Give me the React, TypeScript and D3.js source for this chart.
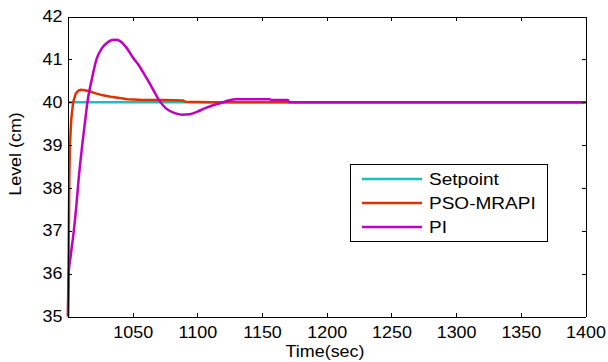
import { useEffect, useRef } from "react";
import * as d3 from "d3";

// Setpoint
const spTime = [1000, 1400];
const spLevel = [40, 40];

// PSO-MRAPI response
const psoTime = [1000, 1000.5, 1001, 1001.5, 1002.5, 1004, 1006, 1008, 1010, 1013, 1017, 1022, 1027, 1033, 1040, 1046, 1058, 1075, 1089, 1091, 1110, 1400];
const psoLevel = [35, 36.5, 38.2, 39.0, 39.6, 40.0, 40.2, 40.27, 40.29, 40.28, 40.25, 40.2, 40.16, 40.13, 40.1, 40.07, 40.05, 40.05, 40.04, 40.01, 40.0, 40.0];

// PI response
const piTime = [1000, 1000.5, 1002, 1004.5, 1006.5, 1008.2, 1011, 1013, 1015, 1018.5, 1022, 1026, 1030, 1034, 1037, 1040, 1045, 1050, 1055, 1058, 1062, 1066, 1071, 1076, 1082, 1088, 1094, 1100, 1106, 1112, 1118, 1124, 1130, 1156, 1157, 1170, 1171, 1400];
const piLevel = [35, 36, 36.4, 37, 37.6, 38.2, 39.0, 39.5, 40.0, 40.55, 41.0, 41.25, 41.38, 41.45, 41.46, 41.43, 41.28, 41.05, 40.85, 40.7, 40.5, 40.28, 40.02, 39.85, 39.75, 39.71, 39.72, 39.78, 39.86, 39.93, 39.98, 40.04, 40.07, 40.07, 40.05, 40.05, 40.0, 40.0];

const xTicks = [1050, 1100, 1150, 1200, 1250, 1300, 1350, 1400];
const yTicks = [35, 36, 37, 38, 39, 40, 41, 42];

const seriesNames = ["Setpoint", "PSO-MRAPI", "PI"];
const seriesColors = ["#1cbfbf", "#dd3300", "#c000c0"];

const FONT = "Liberation Sans, Arial, sans-serif";
const SX = 1.12;

export default function App() {
  const ref = useRef<SVGSVGElement | null>(null);

  useEffect(() => {
    if (!ref.current) return;
    const svg = d3.select(ref.current);
    svg.selectAll("*").remove();

    const x = d3.scaleLinear().domain([1000, 1400]).range([68, 585.5]);
    const y = d3.scaleLinear().domain([35, 42]).range([316.5, 16.5]);

    const series = [
      spTime.map((t, i) => [t, spLevel[i]] as [number, number]),
      psoTime.map((t, i) => [t, psoLevel[i]] as [number, number]),
      piTime.map((t, i) => [t, piLevel[i]] as [number, number]),
    ];

    const line = d3.line<[number, number]>().x((d) => x(d[0])).y((d) => y(d[1]));
    const smooth = d3.line<[number, number]>().x((d) => x(d[0])).y((d) => y(d[1])).curve(d3.curveMonotoneX);

    series.forEach((s, i) => {
      svg.append("path")
        .datum(s)
        .attr("fill", "none")
        .attr("stroke", seriesColors[i])
        .attr("stroke-width", 2.5)
        .attr("stroke-linejoin", "round")
        .attr("d", (i === 2 ? smooth : line)(s) as string);
    });

    // axes, ticks pointing inward
    const bottom = svg.append("g").attr("transform", `translate(0,${y(35)})`)
      .call(d3.axisBottom(x).tickValues(xTicks).tickSizeInner(-4).tickSizeOuter(0).tickPadding(10).tickFormat(d3.format("d")));
    const left = svg.append("g").attr("transform", `translate(${x(1000)},0)`)
      .call(d3.axisLeft(y).tickValues(yTicks).tickSizeInner(-4).tickSizeOuter(0).tickPadding(5.5).tickFormat(d3.format("d")));
    svg.append("g").attr("transform", `translate(0,${y(42)})`)
      .call(d3.axisTop(x).tickValues(xTicks).tickSizeInner(-4).tickSizeOuter(0).tickFormat(() => ""));
    svg.append("g").attr("transform", `translate(${x(1400)},0)`)
      .call(d3.axisRight(y).tickValues(yTicks).tickSizeInner(-4).tickSizeOuter(0).tickFormat(() => ""));

    svg.selectAll(".domain").attr("stroke", "#000").attr("shape-rendering", "crispEdges");
    svg.selectAll(".tick line").attr("stroke", "#000").attr("shape-rendering", "crispEdges");

    [bottom, left].forEach((g) => {
      g.selectAll("text")
        .attr("font-family", FONT)
        .attr("font-size", 16)
        .attr("fill", "#000")
        .attr("transform", `scale(${SX},1)`);
    });
    left.selectAll("text").attr("x", -5.5 / SX);

    // axis titles
    svg.append("text")
      .attr("transform", `translate(325,357) scale(${SX},1)`)
      .attr("text-anchor", "middle")
      .attr("font-family", FONT)
      .attr("font-size", 16)
      .attr("fill", "#000")
      .text("Time(sec)");
    svg.append("text")
      .attr("transform", `translate(21,154) rotate(-90) scale(${SX},1)`)
      .attr("text-anchor", "middle")
      .attr("font-family", FONT)
      .attr("font-size", 16)
      .attr("fill", "#000")
      .text("Level (cm)");

    // legend
    const lg = svg.append("g");
    lg.append("rect")
      .attr("x", 350.5).attr("y", 164.5).attr("width", 197).attr("height", 77)
      .attr("fill", "#fff").attr("stroke", "#000").attr("stroke-width", 1);
    seriesNames.forEach((name, i) => {
      const yy = 179 + i * 24;
      lg.append("line")
        .attr("x1", 362).attr("x2", 422).attr("y1", yy).attr("y2", yy)
        .attr("stroke", seriesColors[i]).attr("stroke-width", 2.5);
      lg.append("text")
        .attr("transform", `translate(429,${yy}) scale(${SX},1)`)
        .attr("dy", "0.36em")
        .attr("font-family", FONT)
        .attr("font-size", 17)
        .attr("fill", "#000")
        .text(name);
    });
  }, []);

  return (
    <svg
      ref={ref}
      width={608}
      height={362}
      style={{ position: "absolute", left: 0, top: 0, background: "#fff" }}
    />
  );
}
